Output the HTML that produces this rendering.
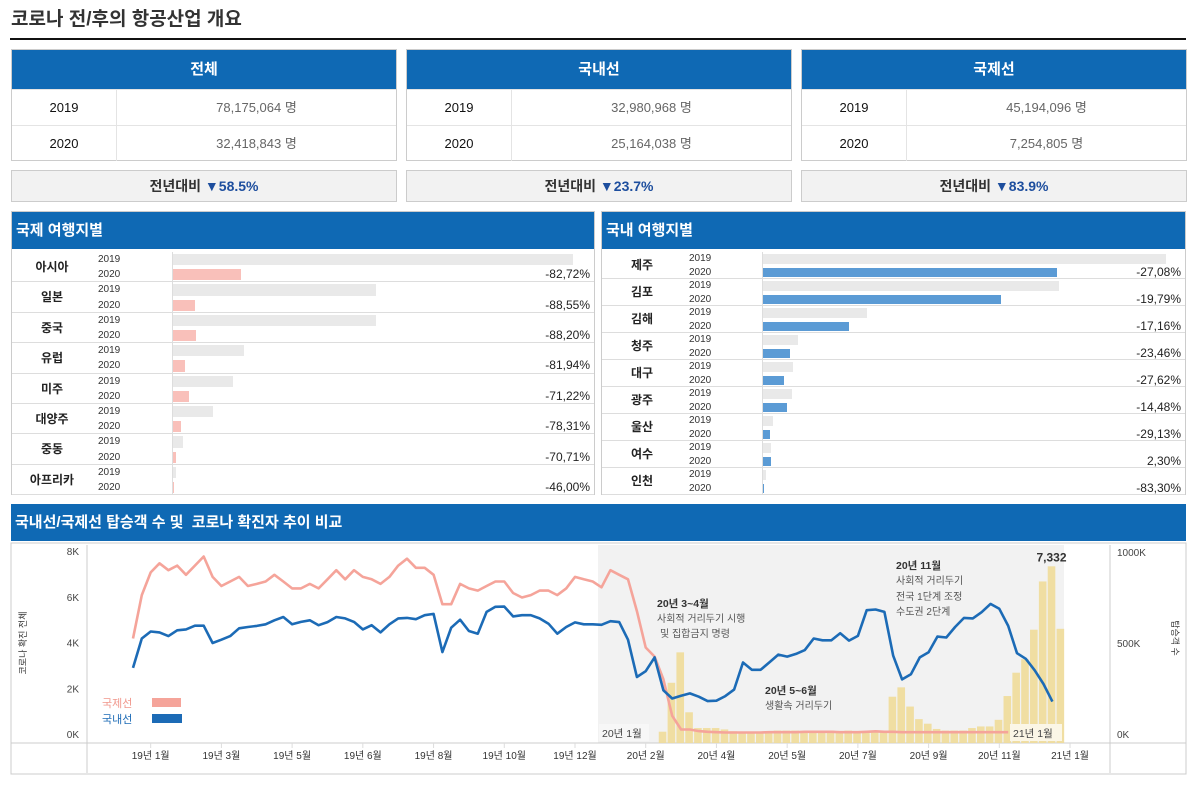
<!DOCTYPE html>
<html><head><meta charset="utf-8">
<style>
*{box-sizing:border-box;margin:0;padding:0}
body{width:1201px;height:792px;background:#fff;font-family:"Liberation Sans","Noto Sans CJK KR",sans-serif;position:relative;overflow:hidden;color:#222}
.abs{position:absolute}
.hdr{background:#0f69b4;color:#fff;font-weight:bold}
.card{border:1px solid #ccc}
.row{position:absolute;left:0;right:0;height:36px;border-top:1px solid #e4e4e4;font-size:13px}
.yr{position:absolute;left:0;width:105px;text-align:center;line-height:35px;border-right:1px solid #e4e4e4;height:35px;color:#111}
.val{position:absolute;left:105px;right:0;text-align:center;line-height:35px;color:#666}
.sum{position:absolute;height:32px;background:#f2f2f2;border:1px solid #ccc;text-align:center;line-height:30px;font-size:14px;font-weight:bold;color:#333}
.sum b{color:#1d4e9e}
</style></head><body>
<div class="abs" style="left:11px;top:4px;font-size:19px;font-weight:bold;color:#333">코로나 전/후의 항공산업 개요</div>
<div class="abs" style="left:10px;top:38px;width:1176px;height:2px;background:#111"></div>
<div id="cards"></div>
<div id="panels"></div>

<div class="abs hdr" style="left:11px;top:504px;width:1175px;height:37px;font-size:15px;line-height:37px;padding-left:4px">국내선/국제선 탑승객 수 및&nbsp; 코로나 확진자 추이 비교</div>
<svg class="abs" id="chart" style="left:0;top:0" width="1201" height="792"></svg>

<script>
// ---- summary cards
const cardTitles=['전체','국내선','국제선'];
const val2019=['78,175,064 명','32,980,968 명','45,194,096 명'];
const val2020=['32,418,843 명','25,164,038 명','7,254,805 명'];
const yoy=['▼58.5%','▼23.7%','▼83.9%'];
const cardsEl=document.getElementById('cards');
cardTitles.forEach((t,i)=>{
  const x=11+i*395;
  const c=document.createElement('div');
  c.className='abs card';
  c.style.cssText=`left:${x}px;top:49px;width:386px;height:112px`;
  
  
  c.innerHTML=`<div class="hdr" style="height:39px;line-height:39px;text-align:center;font-size:15px">${t}</div>
  <div class="row" style="top:39px"><div class="yr">2019</div><div class="val">${val2019[i]}</div></div>
  <div class="row" style="top:75px"><div class="yr">2020</div><div class="val">${val2020[i]}</div></div>`;
  cardsEl.appendChild(c);
  const s=document.createElement('div');
  s.className='sum';
  s.style.cssText+=`left:${x}px;top:170px;width:386px`;
  
  
  s.innerHTML=`전년대비 <b>${yoy[i]}</b>`;
  cardsEl.appendChild(s);
});

// ---- destination panels
const intlNames=['아시아','일본','중국','유럽','미주','대양주','중동','아프리카'];
const intl2019=[400,203,203,71,60,40,10,3];
const intl2020=[68,22,23,12,16,8,3,1];
const intlPct=['-82,72%','-88,55%','-88,20%','-81,94%','-71,22%','-78,31%','-70,71%','-46,00%'];
const domNames=['제주','김포','김해','청주','대구','광주','울산','여수','인천'];
const dom2019=[403,296,104,35,30,29,10,8,3];
const dom2020=[294,238,86,27,21,24,7,8,1];
const domPct=['-27,08%','-19,79%','-17,16%','-23,46%','-27,62%','-14,48%','-29,13%','2,30%','-83,30%'];
const panelsEl=document.getElementById('panels');
function panel(x,w,title,names,a,b,pct,rowH,labW,yrX,barX,maxW,col,scale,name){
  const p=document.createElement('div');
  p.className='abs';
  p.style.cssText=`left:${x}px;top:211px;width:${w}px;height:284px;border:1px solid #ccc`;
  
  
  let h=`<div class="hdr" style="height:37px;line-height:37px;font-size:15px;padding-left:4px">${title}</div>`;
  names.forEach((n,i)=>{
    const top=40+i*rowH;
    const w1=a[i]/scale*maxW, w2=b[i]/scale*maxW;
    h+=`<div class="abs" style="left:0;top:${top}px;width:100%;height:${rowH}px;border-bottom:1px solid #ddd;font-size:10px">
    <div class="abs" style="left:0;width:${labW}px;top:0;height:${rowH}px;line-height:${rowH}px;text-align:center;font-size:12px;font-weight:bold;color:#222">${n}</div>
    <div class="abs" style="left:${yrX}px;top:0;line-height:${rowH/2}px;color:#333">2019</div>
    <div class="abs" style="left:${yrX}px;top:${rowH/2}px;line-height:${rowH/2}px;color:#333">2020</div>
    <div class="abs" style="left:${barX-1}px;top:0;width:1px;height:${rowH}px;background:#ddd"></div>
    <div class="abs" style="left:${barX}px;top:2px;width:${w1}px;height:${rowH/2-4}px;background:#e9e9e9"></div>
    <div class="abs" style="left:${barX}px;top:${rowH/2+2}px;width:${w2}px;height:${rowH/2-4}px;background:${col}"></div>
    <div class="abs" style="right:4px;top:${rowH/2}px;line-height:${rowH/2}px;font-size:12px;color:#222">${pct[i]}</div></div>`;
  });
  p.innerHTML=h;panelsEl.appendChild(p);
}
panel(11,584,'국제 여행지별',intlNames,intl2019,intl2020,intlPct,30.4,80,86,161,400,'#f9c0ba',400,'international-panel');
panel(601,585,'국내 여행지별',domNames,dom2019,dom2020,domPct,27,80,87,161,403,'#5b9bd5',403,'domestic-panel');

// ---- trend chart
const intlPax=[525,763,888,938,900,925,875,925,975,863,813,838,863,813,825,838,875,838,800,800,825,800,850,900,850,900,863,850,825,863,925,963,913,913,875,713,713,825,800,788,813,838,838,775,750,763,788,788,763,800,863,850,838,806,900,875,850,675,475,425,300,100,25,25,16,12,10,8,8,8,8,8,10,10,10,10,12,12,12,12,10,10,10,12,15,12,12,10,10,10,10,10,10,10,10,10,10,10,10,10];
const domPax=[363,525,563,558,538,570,575,595,595,500,518,538,581,588,594,603,625,643,603,616,625,598,615,643,635,616,575,598,558,603,635,638,631,653,660,450,584,628,566,551,671,699,700,646,653,653,635,606,551,588,613,603,603,600,620,615,518,313,345,421,240,195,210,223,205,181,183,208,244,393,353,353,394,436,425,440,461,525,515,515,554,513,539,680,684,671,430,300,328,421,449,535,530,588,638,635,669,715,688,594,444,413,350,275,178];
const barStart=59;
const cases=[100,2240,3570,950,260,260,260,200,120,100,100,100,100,150,150,150,100,100,150,150,100,150,100,100,150,120,1630,2040,1200,650,450,220,150,150,150,260,330,330,620,1660,2680,3270,4560,6670,7332,4600];
const xTicks=['19년 1월','19년 3월','19년 5월','19년 6월','19년 8월','19년 10월','19년 12월','20년 2월','20년 4월','20년 5월','20년 7월','20년 9월','20년 11월','21년 1월'];
const leftTicks=['0K','2K','4K','6K','8K'];
const rightTicks=['0K','500K','1000K'];

const X=i=>133+i*8.84;
const YL=v=>734-v*0.02287;   // cases (left axis)
const YR=v=>734-v*0.182;     // passengers in K (right axis)
const svg=document.getElementById('chart');
const NS='http://www.w3.org/2000/svg';
function mk(tag,attrs,parent){const e=document.createElementNS(NS,tag);for(const k in attrs)e.setAttribute(k,attrs[k]);(parent||svg).appendChild(e);return e;}

let e;
e=mk('rect',{x:11,y:543,width:1175,height:231,fill:'#fff',stroke:'#ccc'});


e=mk('rect',{x:598,y:545,width:466,height:198,fill:'#f2f2f2'});


mk('line',{x1:87,y1:545,x2:87,y2:773,stroke:'#ccc'});
mk('line',{x1:1110,y1:545,x2:1110,y2:773,stroke:'#ccc'});
mk('line',{x1:11,y1:743,x2:1186,y2:743,stroke:'#ccc'});

leftTicks.forEach((t,i)=>{
  e=mk('text',{x:79,y:YL(i*2000)+4,'text-anchor':'end','font-size':10,fill:'#444'});e.textContent=t;
  
  
});
rightTicks.forEach((t,i)=>{
  e=mk('text',{x:1117,y:YR(i*500)+4,'font-size':10,fill:'#444'});e.textContent=t;
  
  
});
xTicks.forEach((t,i)=>{
  const x=X(2+i*8);
  mk('line',{x1:x,y1:743,x2:x,y2:748,stroke:'#ddd'});
  e=mk('text',{x:x,y:759,'text-anchor':'middle','font-size':10,fill:'#333'});e.textContent=t;
  
  
});
e=mk('text',{x:0,y:0,transform:'translate(26,643) rotate(-90)','text-anchor':'middle','font-size':9,fill:'#333'});e.textContent='코로나 확진 전체';


e=mk('text',{x:0,y:0,transform:'translate(1172,638) rotate(90)','text-anchor':'middle','font-size':9,fill:'#333'});e.textContent='탑승객 수';



cases.forEach((v,k)=>{
  const i=barStart+k, cx=X(i)+8;
  e=mk('rect',{x:cx-3.8,y:YL(v),width:7.6,height:734-YL(v)+9,fill:'#f0da94','fill-opacity':0.85});
  
  
});
function line(arr,col,name){
  const d=arr.map((v,i)=>(i?'L':'M')+X(i).toFixed(1)+','+YR(v).toFixed(1)).join('');
  e=mk('path',{d:d,fill:'none',stroke:col,'stroke-width':2.6,'stroke-linejoin':'round'});
  
  
}
line(intlPax,'#f5a49a','international-line');
line(domPax,'#1c6bb6','domestic-line');

function txt(x,y,t,sz,col,w,name,anchor){
  e=mk('text',{x:x,y:y,'font-size':sz,fill:col,'font-weight':w||'normal','text-anchor':anchor||'start'});e.textContent=t;
  
  
}
const pk=barStart+cases.indexOf(Math.max(...cases));
txt(X(pk)+8,YL(Math.max(...cases))-5,'7,332',12,'#333','bold','peak-label','middle');
txt(657,607,'20년 3~4월',10.5,'#333','bold','annotation-mar-apr');
txt(657,622,'사회적 거리두기 시행',10,'#555','normal','annotation-line');
txt(660,637,'및 집합금지 명령',10,'#555','normal','annotation-line');
txt(765,694,'20년 5~6월',10.5,'#333','bold','annotation-may-jun');
txt(765,709,'생활속 거리두기',10,'#555','normal','annotation-line');
txt(896,569,'20년 11월',10.5,'#333','bold','annotation-nov');
txt(896,584,'사회적 거리두기',10,'#555','normal','annotation-line');
txt(896,600,'전국 1단계 조정',10,'#555','normal','annotation-line');
txt(896,615,'수도권 2단계',10,'#555','normal','annotation-line');
e=mk('rect',{x:599,y:724,width:50,height:17,fill:'#f7f7f7'});
txt(602,737,'20년 1월',10.5,'#444','normal','period-start-label');
e=mk('rect',{x:1010,y:724,width:52,height:17,fill:'#fbf6e6'});
txt(1013,737,'21년 1월',10.5,'#444','normal','period-end-label');

txt(102,707,'국제선',11,'#f0978c','normal','legend-international-label');
e=mk('rect',{x:152,y:698,width:29,height:9,fill:'#f5a49a'});


txt(102,723,'국내선',11,'#1c6bb6','normal','legend-domestic-label');
e=mk('rect',{x:152,y:714,width:30,height:9,fill:'#1c6bb6'});


</script>
</body></html>
